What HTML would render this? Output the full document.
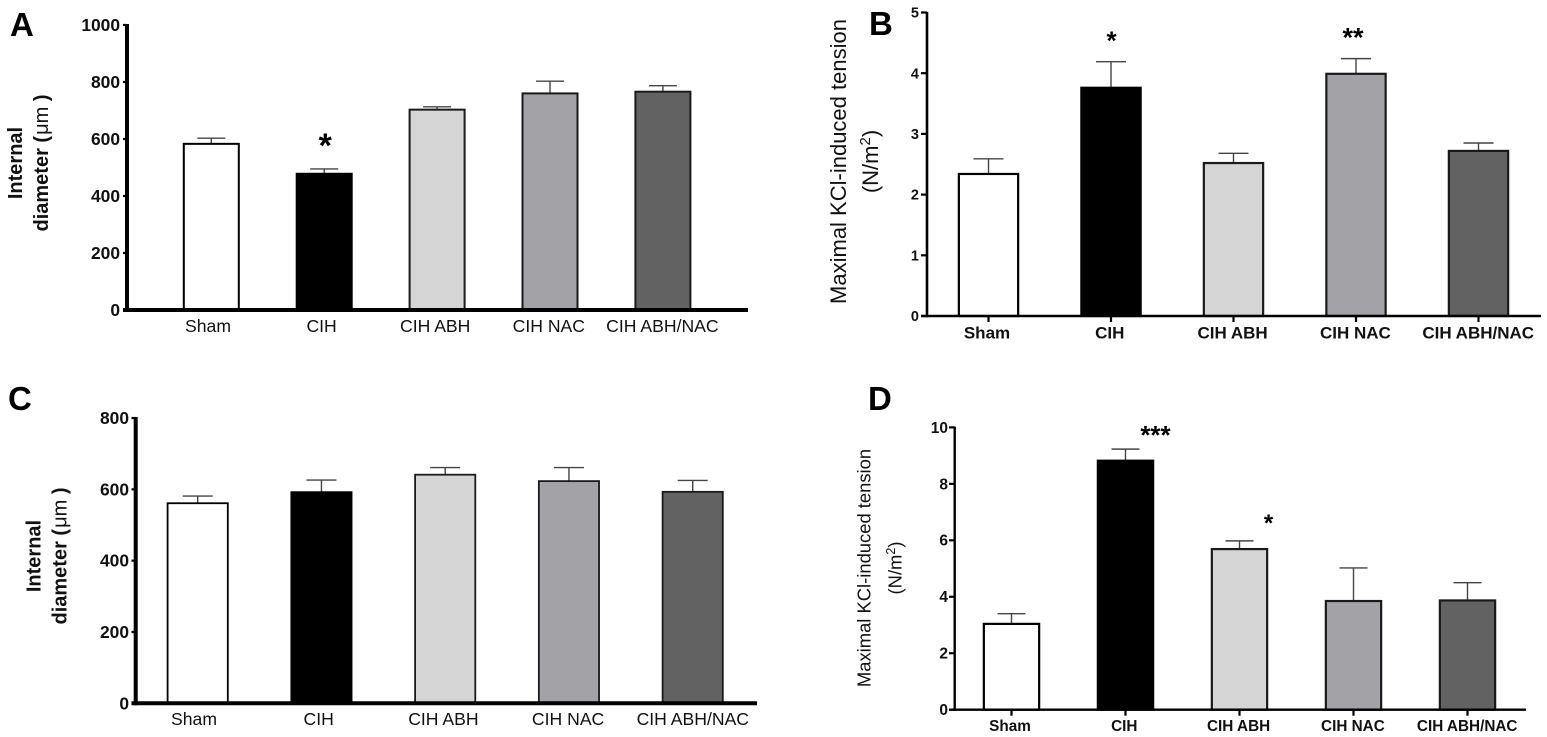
<!DOCTYPE html>
<html lang="en">
<head>
<meta charset="utf-8">
<title>Internal diameter and maximal KCl-induced tension</title>
<style>
html,body{margin:0;padding:0;background:#fff;}
svg{display:block;font-family:"Liberation Sans",Arial,sans-serif;}
</style>
</head>
<body>
<svg id="figure" xmlns="http://www.w3.org/2000/svg" width="1547" height="737" viewBox="0 0 1547 737"></svg>
<script>
const categories = ['Sham', 'CIH', 'CIH ABH', 'CIH NAC', 'CIH ABH/NAC'];
const fills = ['#ffffff', '#000000', '#d5d5d5', '#a3a2a6', '#626262'];

const valuesA = [583, 478, 703, 760, 766];
const errorsA = [20, 17, 10, 43, 21];
const ticksA = [0, 200, 400, 600, 800, 1000];
const starsA = ['', '*', '', '', ''];

const valuesB = [2.34, 3.76, 2.52, 3.99, 2.72];
const errorsB = [0.25, 0.43, 0.16, 0.25, 0.13];
const ticksB = [0, 1, 2, 3, 4, 5];
const starsB = ['', '*', '', '**', ''];

const valuesC = [561, 592, 641, 623, 593];
const errorsC = [20, 34, 20, 38, 32];
const ticksC = [0, 200, 400, 600, 800];

const valuesD = [3.04, 8.82, 5.69, 3.85, 3.87];
const errorsD = [0.36, 0.41, 0.29, 1.17, 0.63];
const ticksD = [0, 2, 4, 6, 8, 10];
const starsD = ['', '***', '*', '', ''];

const NS = 'http://www.w3.org/2000/svg';
const svg = document.getElementById('figure');

function make(tag, parent, props) {
  const el = document.createElementNS(NS, tag);
  for (const k in props) el.setAttribute(k, props[k]);
  parent.appendChild(el);
  return el;
}

function drawPanel(p) {
  const g = make('g', svg, {});
  
  

  const yMax = p.ticks[p.ticks.length - 1];
  const yScale = v => p.y0 - (v / yMax) * (p.y0 - p.yTop);
  const xScale = i => p.x0 + i * p.step;
  const labelX = i => p.labelStart + i * p.labelStep;

  const letter = make('text', g, {x: p.letterX, y: p.letterY, 'font-size': 33, 'font-weight': 700, fill: '#000'});
  letter.textContent = p.id;
  
  

  p.values.forEach((v, i) => {
    const cx = xScale(i);
    const top = yScale(v);
    const errTop = yScale(v + p.errors[i]);

    const stem = make('line', g, {x1: cx, x2: cx, y1: top, y2: errTop, stroke: '#444', 'stroke-width': 1.4});
    
    

    const cap = make('line', g, {x1: cx - p.capHalf, x2: cx + p.capHalf, y1: errTop, y2: errTop, stroke: '#444', 'stroke-width': 1.4});
    
    

    const bar = make('rect', g, {
      x: cx - p.barW / 2 + p.barStroke / 2,
      y: top,
      width: p.barW - p.barStroke,
      height: p.y0 - top,
      fill: fills[i],
      stroke: i === 0 || i === 1 ? '#000' : '#1a1a1a',
      'stroke-width': p.barStroke
    });
    
    

    if (p.xTicks) {
      const t = make('line', g, {x1: cx, x2: cx, y1: p.y0, y2: p.y0 + 6, stroke: '#000', 'stroke-width': 2.2});
      
      
    }

    const lab = make('text', g, {
      x: labelX(i), y: p.labelY, 'text-anchor': 'middle',
      'font-size': p.labelSize, 'font-weight': p.labelWeight, fill: '#111'
    });
    lab.textContent = categories[i];
    
    

    if (p.stars && p.stars[i]) {
      const s = make('text', g, {
        x: cx + p.starDx[i], y: errTop + p.starDy[i], 'text-anchor': 'middle',
        'font-size': p.starSize[i], 'font-weight': 700, fill: '#000'
      });
      s.textContent = p.stars[i];
      
      
    }
  });

  const yAxis = make('line', g, {x1: p.axisX, x2: p.axisX, y1: p.yTop - p.axisW / 4, y2: p.y0 + p.axisW / 2, stroke: '#000', 'stroke-width': p.axisW});
  
  

  const xAxis = make('line', g, {x1: p.tickLeft, x2: p.axisEnd, y1: p.y0, y2: p.y0, stroke: '#000', 'stroke-width': p.axisW});
  
  

  p.ticks.forEach(tv => {
    const y = yScale(tv);
    const t = make('line', g, {x1: p.tickLeft, x2: p.axisX, y1: y, y2: y, stroke: '#000', 'stroke-width': 2.2});
    
    

    const lab = make('text', g, {
      x: p.tickLabelX, y: y + p.tickSize * 0.35, 'text-anchor': 'end',
      'font-size': p.tickSize, 'font-weight': 700, fill: '#111'
    });
    lab.textContent = tv;
    
    
  });

  p.title(g);
}

function rotated(g, x, y, size, weight) {
  return make('text', g, {
    transform: 'translate(' + x + ' ' + y + ') rotate(-90)',
    'text-anchor': 'middle', 'font-size': size, 'font-weight': weight, fill: '#111'
  });
}

function diameterTitle(x1, x2, y) {
  return g => {
    const a = rotated(g, x1, y, 20, 700);
    a.textContent = 'Internal';
    
    

    const b = rotated(g, x2, y, 20, 700);
    
    
    b.appendChild(document.createTextNode('diameter ('));
    const mu = make('tspan', b, {'font-weight': 400, dx: 1});
    mu.textContent = 'μm';
    b.appendChild(document.createTextNode('  )'));
  };
}

function tensionTitle(x1, x2, y, size) {
  return g => {
    const a = rotated(g, x1, y, size, 400);
    a.textContent = 'Maximal KCl-induced tension';
    
    

    const b = rotated(g, x2, y, size, 400);
    
    
    b.appendChild(document.createTextNode('(N/m'));
    const sup = make('tspan', b, {'font-size': size * 0.68, dy: -size * 0.36});
    sup.textContent = '2';
    const close = make('tspan', b, {dy: size * 0.36});
    close.textContent = ')';
  };
}

drawPanel({
  id: 'A', values: valuesA, errors: errorsA, ticks: ticksA, stars: starsA,
  letterX: 10, letterY: 36,
  axisX: 127, axisW: 4, axisEnd: 748, tickLeft: 123, tickLabelX: 120, tickSize: 17.4,
  y0: 310, yTop: 25,
  x0: 211.3, step: 112.9, barW: 57, barStroke: 2, capHalf: 14,
  labelStart: 208, labelStep: 113.6, labelY: 332, labelSize: 17.6, labelWeight: 400,
  starDx: [0, 1, 0, 0, 0], starDy: [0, -12, 0, 0, 0], starSize: [0, 34, 0, 0, 0],
  title: diameterTitle(22, 48, 163)
});

drawPanel({
  id: 'B', values: valuesB, errors: errorsB, ticks: ticksB, stars: starsB,
  letterX: 869, letterY: 35, xTicks: true,
  axisX: 927, axisW: 2.6, axisEnd: 1541, tickLeft: 921, tickLabelX: 919, tickSize: 14.5,
  y0: 316, yTop: 12.5,
  x0: 988.5, step: 122.5, barW: 61.5, barStroke: 2.2, capHalf: 15,
  labelStart: 987, labelStep: 122.8, labelY: 338.5, labelSize: 17, labelWeight: 700,
  starDx: [0, 0.5, 0, -3, 0], starDy: [0, -12, 0, -12, 0], starSize: [0, 26, 0, 27, 0],
  title: tensionTitle(846, 878, 161.5, 22)
});

drawPanel({
  id: 'C', values: valuesC, errors: errorsC, ticks: ticksC,
  letterX: 8, letterY: 410,
  axisX: 135.7, axisW: 4, axisEnd: 757, tickLeft: 131.5, tickLabelX: 129, tickSize: 17.4,
  y0: 703.3, yTop: 418,
  x0: 197.7, step: 123.75, barW: 62, barStroke: 1.8, capHalf: 15,
  labelStart: 194, labelStep: 124.7, labelY: 725, labelSize: 17.6, labelWeight: 400,
  title: diameterTitle(40.5, 66.5, 556)
});

drawPanel({
  id: 'D', values: valuesD, errors: errorsD, ticks: ticksD, stars: starsD,
  letterX: 868, letterY: 410, xTicks: true,
  axisX: 954.7, axisW: 2.4, axisEnd: 1526, tickLeft: 949, tickLabelX: 948, tickSize: 15.5,
  y0: 709.7, yTop: 427.4,
  x0: 1011.5, step: 114, barW: 57.5, barStroke: 2.2, capHalf: 14,
  labelStart: 1010, labelStep: 114.3, labelY: 731, labelSize: 15.3, labelWeight: 700,
  starDx: [0, 30, 29, 0, 0], starDy: [0, -5, -10, 0, 0], starSize: [0, 26, 24, 0, 0],
  title: tensionTitle(870.7, 901.7, 568, 18.4)
});
</script>
</body>
</html>
